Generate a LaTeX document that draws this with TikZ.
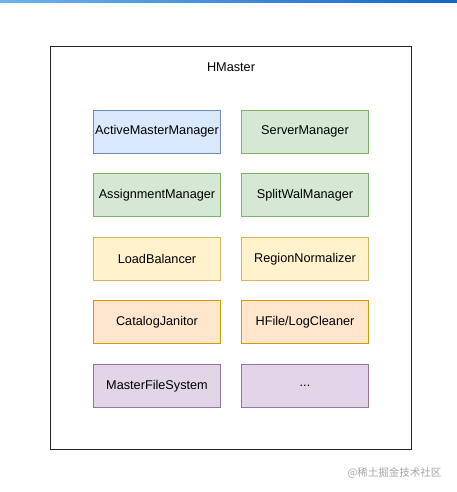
\documentclass[tikz,border=0pt]{standalone}
\usepackage{fontspec}
\setmainfont{Liberation Sans}
\newfontfamily\cjk{Noto Sans CJK SC}
\definecolor{bfill}{HTML}{DAE8FC}\definecolor{bdraw}{HTML}{6C8EBF}
\definecolor{gfill}{HTML}{D5E8D4}\definecolor{gdraw}{HTML}{82B366}
\definecolor{yfill}{HTML}{FFF2CC}\definecolor{ydraw}{HTML}{D6B656}
\definecolor{ofill}{HTML}{FFE6CC}\definecolor{odraw}{HTML}{D79B00}
\definecolor{pfill}{HTML}{E1D5E7}\definecolor{pdraw}{HTML}{9673A6}
\definecolor{topl}{HTML}{6CB4EA}\definecolor{topr}{HTML}{1565C8}
\begin{document}
\begin{tikzpicture}[x=1pt,y=-1pt,
  comp/.style={draw, line width=0.8pt, minimum width=127pt, minimum height=43pt, inner sep=0pt, font=\fontsize{12.7}{14}\selectfont},
  bluebox/.style={comp, fill=bfill, draw=bdraw},
  greenbox/.style={comp, fill=gfill, draw=gdraw},
  yellowbox/.style={comp, fill=yfill, draw=ydraw},
  orangebox/.style={comp, fill=ofill, draw=odraw},
  purplebox/.style={comp, fill=pfill, draw=pdraw}]
\useasboundingbox (0,0) rectangle (457,492);
\fill[white] (0,0) rectangle (457,492);
\shade[left color=topl, right color=topr] (0,0) rectangle (457,3);
\node[draw=black!85, line width=1pt, minimum width=361pt, minimum height=402pt, inner sep=0pt] (hm) at (230.5,248) {};
\node[font=\fontsize{12.7}{14}\selectfont] (title) at (231,67) {HMaster};
\node[bluebox] (amm) at (157,131.5) {ActiveMasterManager};
\node[greenbox] (sm) at (305,131.5) {ServerManager};
\node[greenbox] (asm) at (157,195) {AssignmentManager};
\node[greenbox] (swm) at (305,195) {SplitWalManager};
\node[yellowbox] (lb) at (157,259) {LoadBalancer};
\node[yellowbox] (rn) at (305,259) {RegionNormalizer};
\node[orangebox] (cj) at (157,322) {CatalogJanitor};
\node[orangebox] (hf) at (305,322) {HFile/LogCleaner};
\node[purplebox] (mfs) at (157,386) {MasterFileSystem};
\node[purplebox] (etc) at (305,386) {...};
\node[text=black!35, font=\cjk\fontsize{10.5}{12}\selectfont, anchor=east] (wm) at (445,473) {@稀土掘金技术社区};
\end{tikzpicture}
\end{document}
